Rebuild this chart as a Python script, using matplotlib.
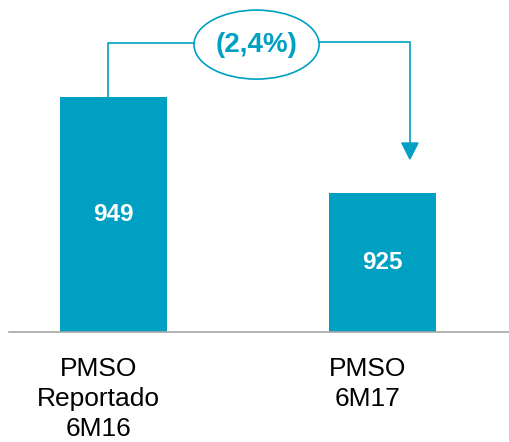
import matplotlib
matplotlib.use("Agg")
import matplotlib.pyplot as plt
from matplotlib.patches import Ellipse, Polygon

plt.rcParams['font.family'] = ['Liberation Sans', 'DejaVu Sans']

categories = ['PMSO\nReportado\n6M16', 'PMSO\n6M17']
values = [949, 925]
change_label = '(2,4%)'

teal = '#00A0C3'
W, H = 510, 442

fig = plt.figure(figsize=(W / 100, H / 100), dpi=100)
# axes from the baseline (y=332 px) up to the top edge
ax = fig.add_axes([9 / W, (H - 332) / H, 501 / W, 332 / H])
ax.set_xlim(-0.388, 1.474)
ax.set_ylim(890.25, 973.25)
ax.axis('off')

x = [0, 1]
ax.bar(x, values, width=0.398, color=teal, zorder=2)

# baseline
ax.axhline(890.25, color='#A6A6A6', lw=1.2, zorder=3, clip_on=False)

# value labels in the middle of each bar
for xi, v in zip(x, values):
    ax.text(xi, (v + 890.25) / 2, str(v), color='white', fontsize=17.5,
            fontweight='bold', ha='center', va='center', zorder=4)

# category labels under the bars
for xi, c in zip(x, categories):
    ax.text(xi - 0.056, -0.074, c, transform=ax.get_xaxis_transform(),
            ha='center', va='top', fontsize=19, linespacing=1.33,
            color='black')

# connector from first bar to the second one
y_line = 962.5
ex, ey, ew, eh = 0.532, 962.1, 0.465, 17.25
x_start, x_end = -0.02, 1.102
ax.plot([x_start, x_start, ex - ew / 2], [values[0], y_line, y_line],
        color=teal, lw=1.2, zorder=3, solid_capstyle='butt')
ax.plot([ex + ew / 2, x_end, x_end], [y_line + 0.3, y_line + 0.3, 937.5],
        color=teal, lw=1.2, zorder=3, solid_capstyle='butt')
ax.add_patch(Polygon([[x_end - 0.03, 937.5], [x_end + 0.03, 937.5],
                      [x_end, 933.5]], closed=True, color=teal, zorder=3,
                     clip_on=False))
ax.add_patch(Ellipse((ex, ey), ew, eh, facecolor='white', edgecolor=teal,
                     lw=1.2, zorder=4, clip_on=False))
ax.text(ex, ey, change_label, color=teal, fontsize=20, fontweight='bold',
        ha='center', va='center', zorder=5)

fig.savefig('out.png', dpi=100)
